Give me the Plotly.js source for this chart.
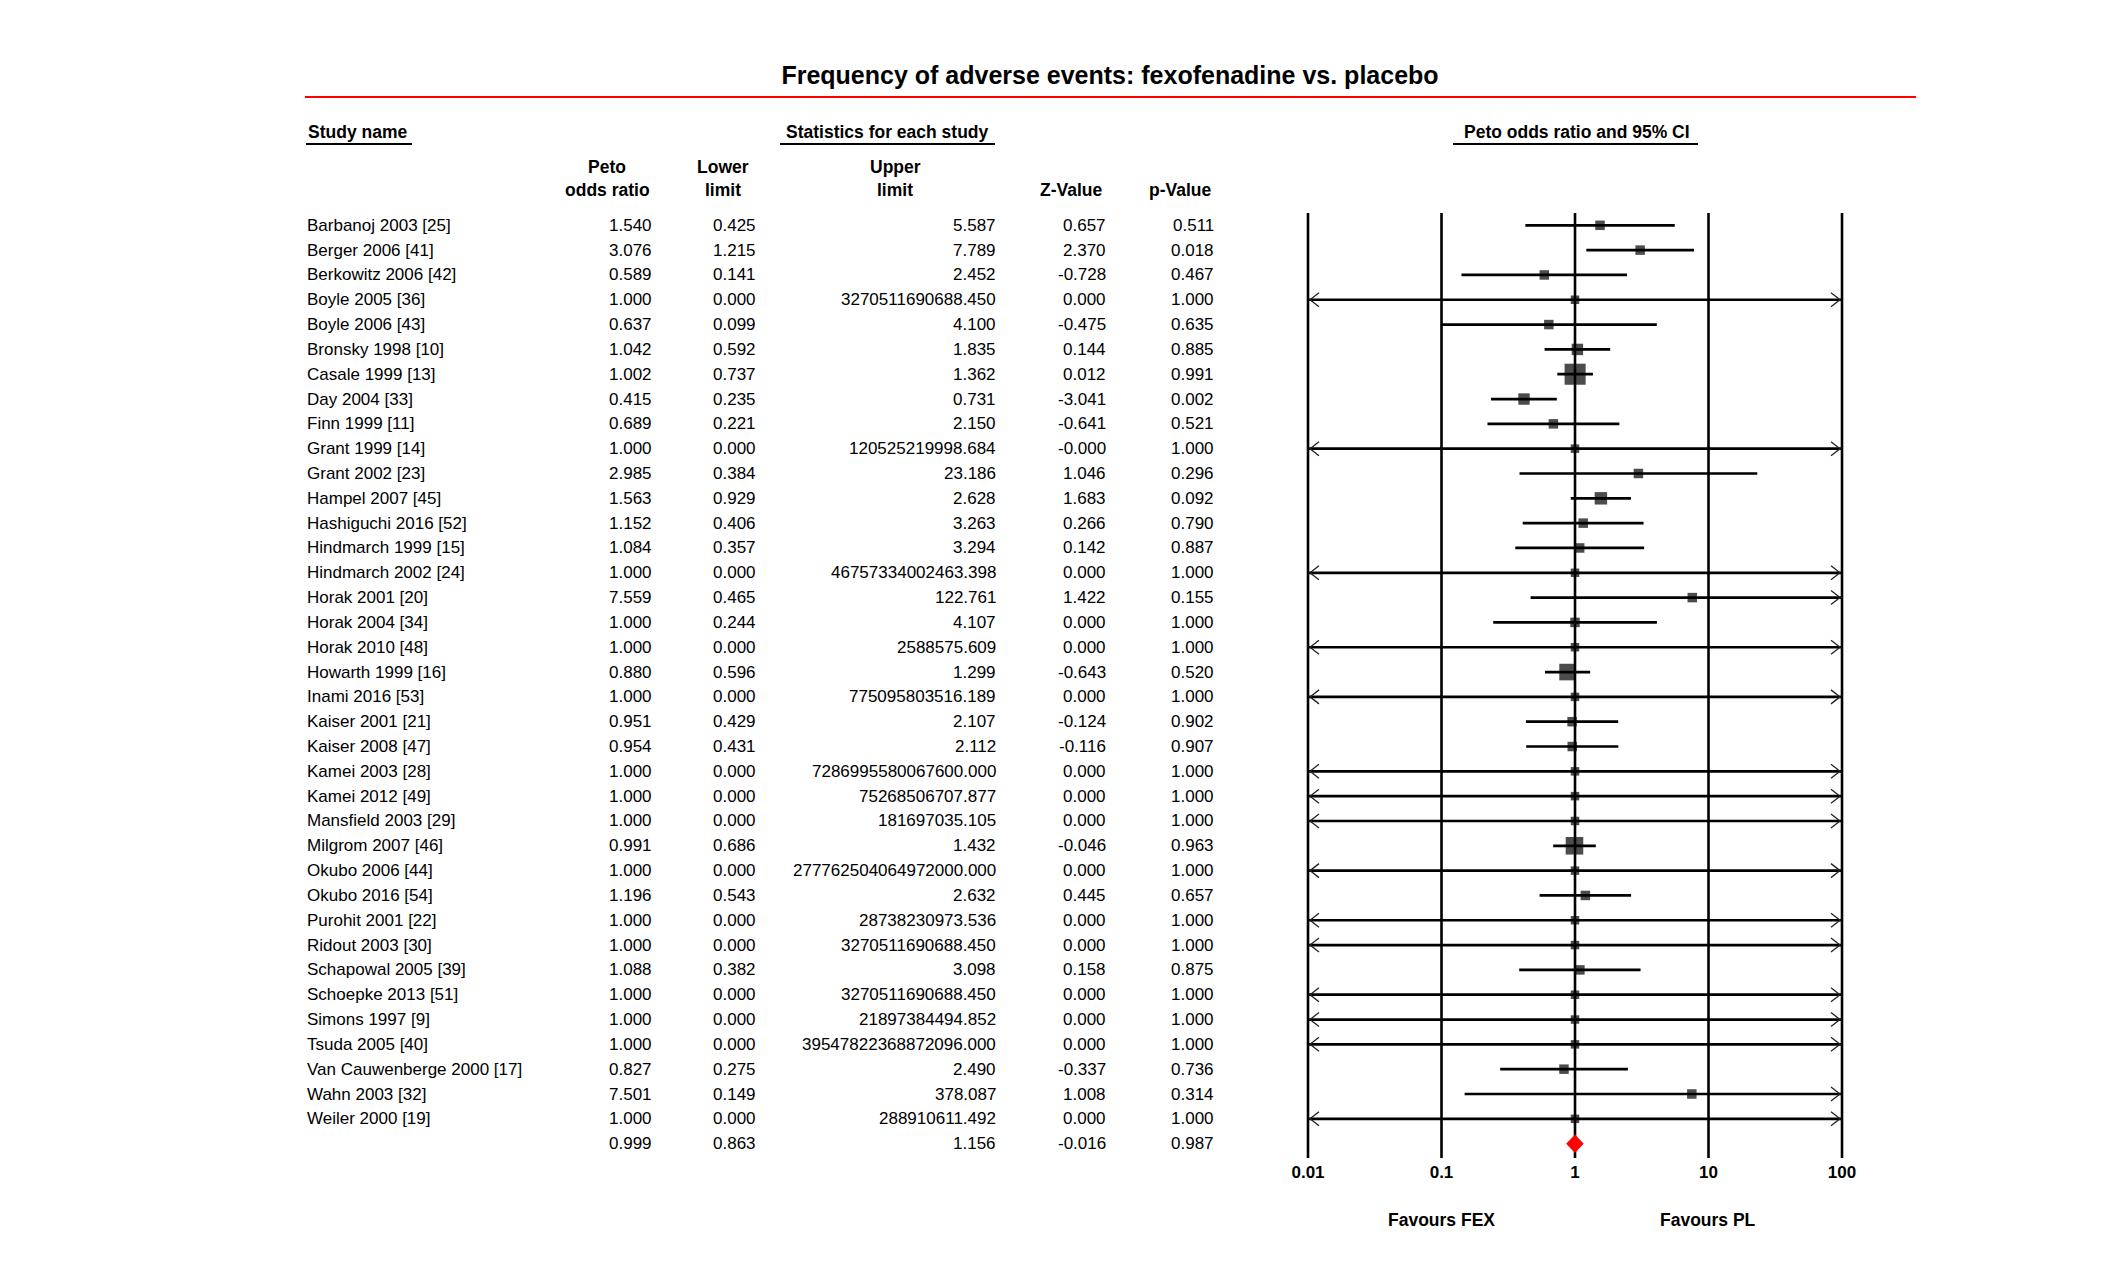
<!DOCTYPE html>
<html>
<head>
<meta charset="utf-8">
<script src="https://cdn.plot.ly/plotly-3.0.1.min.js"></script>
<style>
html, body { margin: 0; padding: 0; background: #ffffff; }
#chart { width: 2128px; height: 1288px; }
</style>
</head>
<body>
<div id="chart"></div>
<script>
// ---------------- DATA ----------------
const studyNames = [
  "Barbanoj 2003 [25]", "Berger 2006 [41]", "Berkowitz 2006 [42]", "Boyle 2005 [36]",
  "Boyle 2006 [43]", "Bronsky 1998 [10]", "Casale 1999 [13]", "Day 2004 [33]",
  "Finn 1999 [11]", "Grant 1999 [14]", "Grant 2002 [23]", "Hampel 2007 [45]",
  "Hashiguchi 2016 [52]", "Hindmarch 1999 [15]", "Hindmarch 2002 [24]", "Horak 2001 [20]",
  "Horak 2004 [34]", "Horak 2010 [48]", "Howarth 1999 [16]", "Inami 2016 [53]",
  "Kaiser 2001 [21]", "Kaiser 2008 [47]", "Kamei 2003 [28]", "Kamei 2012 [49]",
  "Mansfield 2003 [29]", "Milgrom 2007 [46]", "Okubo 2006 [44]", "Okubo 2016 [54]",
  "Purohit 2001 [22]", "Ridout 2003 [30]", "Schapowal 2005 [39]", "Schoepke 2013 [51]",
  "Simons 1997 [9]", "Tsuda 2005 [40]", "Van Cauwenberge 2000 [17]", "Wahn 2003 [32]",
  "Weiler 2000 [19]"
];
const petoOddsRatio = [
  "1.540", "3.076", "0.589", "1.000", "0.637", "1.042", "1.002", "0.415",
  "0.689", "1.000", "2.985", "1.563", "1.152", "1.084", "1.000", "7.559",
  "1.000", "1.000", "0.880", "1.000", "0.951", "0.954", "1.000", "1.000",
  "1.000", "0.991", "1.000", "1.196", "1.000", "1.000", "1.088", "1.000",
  "1.000", "1.000", "0.827", "7.501", "1.000"
];
const lowerLimit = [
  "0.425", "1.215", "0.141", "0.000", "0.099", "0.592", "0.737", "0.235",
  "0.221", "0.000", "0.384", "0.929", "0.406", "0.357", "0.000", "0.465",
  "0.244", "0.000", "0.596", "0.000", "0.429", "0.431", "0.000", "0.000",
  "0.000", "0.686", "0.000", "0.543", "0.000", "0.000", "0.382", "0.000",
  "0.000", "0.000", "0.275", "0.149", "0.000"
];
const upperLimit = [
  "5.587", "7.789", "2.452", "3270511690688.450", "4.100", "1.835", "1.362", "0.731",
  "2.150", "120525219998.684", "23.186", "2.628", "3.263", "3.294", "46757334002463.398", "122.761",
  "4.107", "2588575.609", "1.299", "775095803516.189", "2.107", "2.112", "7286995580067600.000", "75268506707.877",
  "181697035.105", "1.432", "277762504064972000.000", "2.632", "28738230973.536", "3270511690688.450", "3.098", "3270511690688.450",
  "21897384494.852", "39547822368872096.000", "2.490", "378.087", "288910611.492"
];
const zValue = [
  "0.657", "2.370", "-0.728", "0.000", "-0.475", "0.144", "0.012", "-3.041",
  "-0.641", "-0.000", "1.046", "1.683", "0.266", "0.142", "0.000", "1.422",
  "0.000", "0.000", "-0.643", "0.000", "-0.124", "-0.116", "0.000", "0.000",
  "0.000", "-0.046", "0.000", "0.445", "0.000", "0.000", "0.158", "0.000",
  "0.000", "0.000", "-0.337", "1.008", "0.000"
];
const pValue = [
  "0.511", "0.018", "0.467", "1.000", "0.635", "0.885", "0.991", "0.002",
  "0.521", "1.000", "0.296", "0.092", "0.790", "0.887", "1.000", "0.155",
  "1.000", "1.000", "0.520", "1.000", "0.902", "0.907", "1.000", "1.000",
  "1.000", "0.963", "1.000", "0.657", "1.000", "1.000", "0.875", "1.000",
  "1.000", "1.000", "0.736", "0.314", "1.000"
];
// Pooled (summary) row: odds ratio, lower, upper, Z, p
const summaryRow = ["0.999", "0.863", "1.156", "-0.016", "0.987"];

const tickValues = [0.01, 0.1, 1, 10, 100];
const tickLabels = ["0.01", "0.1", "1", "10", "100"];

// ---------------- LAYOUT CONSTANTS ----------------
const W = 2128, H = 1288;
const FONT = "Liberation Sans, Arial, Helvetica, sans-serif";
const ROW0 = 225.3, ROWH = 24.82;          // pixel centre of first row, row pitch
const PLOT_BOTTOM = 1160;                   // pixel bottom of forest area
const X_MIN = tickValues[0], X_MAX = tickValues[tickValues.length - 1];
const DECADE_PX = 133.5;
const PAD_DEC = 0.03;

const pxX = px => px / W;
const pxY = py => 1 - py / H;
const rowFromPx = py => (py - ROW0) / ROWH;

const n = studyNames.length;
const summaryIndex = n;

// ---------------- TRACES ----------------
const traces = [];

// vertical reference lines at each decade
const vx = [], vy = [];
const lineTop = rowFromPx(213), lineBottom = rowFromPx(1158);
tickValues.forEach(v => { vx.push(v, v, null); vy.push(lineTop, lineBottom, null); });
traces.push({ type: "scatter", mode: "lines", x: vx, y: vy,
  line: { color: "#000000", width: 2.6 }, hoverinfo: "skip", cliponaxis: false });

// confidence interval lines (clipped to axis range) and arrow heads
const cx = [], cy = [], ax = [], ay = [];
const tipOff = Math.pow(10, 2 / DECADE_PX);
const armLen = Math.pow(10, 9 / DECADE_PX);
const armH = 7 / ROWH;
for (let i = 0; i < n; i++) {
  const lo = parseFloat(lowerLimit[i]);
  const hi = parseFloat(upperLimit[i]);
  const l = Math.max(lo, X_MIN), h = Math.min(hi, X_MAX);
  cx.push(l, h, null); cy.push(i, i, null);
  if (lo < X_MIN) {
    const t = X_MIN * tipOff;
    ax.push(t * armLen, t, t * armLen, null);
    ay.push(i - armH, i, i + armH, null);
  }
  if (hi > X_MAX) {
    const t = X_MAX / tipOff;
    ax.push(t / armLen, t, t / armLen, null);
    ay.push(i - armH, i, i + armH, null);
  }
}
traces.push({ type: "scatter", mode: "lines", x: cx, y: cy,
  line: { color: "#000000", width: 2.7 }, hoverinfo: "skip" });
traces.push({ type: "scatter", mode: "lines", x: ax, y: ay,
  line: { color: "#222222", width: 1.3 }, hoverinfo: "skip" });

// point estimates: square size grows with inverse-variance weight
const sizes = [];
for (let i = 0; i < n; i++) {
  const lo = parseFloat(lowerLimit[i]), hi = parseFloat(upperLimit[i]);
  let w = 0;
  if (lo > 0) {
    const se = (Math.log(hi) - Math.log(lo)) / 3.92;
    w = 1 / (se * se);
  }
  sizes.push(w > 0 ? Math.max(9.5, 3.3 * Math.sqrt(w)) : 8.5);
}
traces.push({ type: "scatter", mode: "markers",
  x: petoOddsRatio.map(parseFloat), y: studyNames.map((_, i) => i),
  marker: { symbol: "square", color: "#000000", size: sizes, line: { width: 0 } },
  hoverinfo: "skip" });

// summary diamond
const sOR = parseFloat(summaryRow[0]), sLo = parseFloat(summaryRow[1]), sHi = parseFloat(summaryRow[2]);
const dh = 9 / ROWH;
traces.push({ type: "scatter", mode: "lines", fill: "toself",
  x: [sLo, sOR, sHi, sOR, sLo],
  y: [summaryIndex, summaryIndex - dh, summaryIndex, summaryIndex + dh, summaryIndex],
  fillcolor: "#ff0000", line: { color: "#ff0000", width: 0.5 }, hoverinfo: "skip" });

// ---------------- ANNOTATIONS (table text) ----------------
const ann = [];
const dataFont = { family: FONT, size: 17, color: "#000000" };
const boldFont = { family: FONT, size: 17.5, color: "#000000", weight: "bold" };
const colRight = [653, 757, 997, 1107, 1215];
const NAME_LEFT = 306;

function rowText(text, px, row, anchor) {
  ann.push({ text: text, xref: "paper", yref: "y", x: pxX(px), y: row,
    xanchor: anchor, yanchor: "middle", showarrow: false, font: dataFont, borderpad: 0 });
}
for (let i = 0; i < n; i++) {
  rowText(studyNames[i], NAME_LEFT, i, "left");
  rowText(petoOddsRatio[i], colRight[0], i, "right");
  rowText(lowerLimit[i], colRight[1], i, "right");
  rowText(upperLimit[i], colRight[2], i, "right");
  rowText(zValue[i], colRight[3], i, "right");
  rowText(pValue[i], colRight[4], i, "right");
}
summaryRow.forEach((v, k) => rowText(v, colRight[k], summaryIndex, "right"));

function header(text, px, py, anchor, font) {
  ann.push({ text: text, xref: "paper", yref: "paper", x: pxX(px), y: pxY(py),
    xanchor: anchor, yanchor: "middle", showarrow: false, font: font || boldFont, borderpad: 0 });
}
header("Study name", 307, 132, "left");
header("Statistics for each study", 887, 132, "center");
header("Peto odds ratio and 95% CI", 1577, 132, "center");
header("Peto", 607, 167, "center");
header("odds ratio", 607, 190, "center");
header("Lower", 723, 167, "center");
header("limit", 723, 190, "center");
header("Upper", 895, 167, "center");
header("limit", 895, 190, "center");
header("Z-Value", 1071, 190, "center");
header("p-Value", 1180, 190, "center");
header("Favours FEX", 1441, 1220, "center");
header("Favours PL", 1708, 1220, "center");

// ---------------- SHAPES (decorative rules) ----------------
const shapes = [
  { type: "line", xref: "paper", yref: "paper", x0: pxX(305), x1: pxX(1916), y0: pxY(97), y1: pxY(97),
    line: { color: "#ff0000", width: 2.2 } },
  { type: "line", xref: "paper", yref: "paper", x0: pxX(306), x1: pxX(412), y0: pxY(144), y1: pxY(144),
    line: { color: "#000000", width: 2.2 } },
  { type: "line", xref: "paper", yref: "paper", x0: pxX(780), x1: pxX(995), y0: pxY(144), y1: pxY(144),
    line: { color: "#000000", width: 2.2 } },
  { type: "line", xref: "paper", yref: "paper", x0: pxX(1453), x1: pxX(1698), y0: pxY(144), y1: pxY(144),
    line: { color: "#000000", width: 2.2 } }
];

const layout = {
  width: W, height: H, autosize: false,
  margin: { l: 0, r: 0, t: 0, b: 0, pad: 0 },
  paper_bgcolor: "#ffffff", plot_bgcolor: "rgba(0,0,0,0)",
  showlegend: false, hovermode: false,
  title: { text: "Frequency of adverse events: fexofenadine vs. placebo",
    font: { family: FONT, size: 25, color: "#000000", weight: "bold" },
    x: pxX(1110), xanchor: "center", y: pxY(75), yanchor: "middle", xref: "paper", yref: "container" },
  xaxis: {
    type: "log",
    range: [Math.log10(X_MIN) - PAD_DEC, Math.log10(X_MAX) + PAD_DEC],
    domain: [pxX(1308 - PAD_DEC * DECADE_PX), pxX(1842 + PAD_DEC * DECADE_PX)],
    tickvals: tickValues, ticktext: tickLabels,
    tickfont: { family: FONT, size: 17, color: "#000000", weight: "bold" },
    ticks: "", showgrid: false, zeroline: false, showline: false, fixedrange: true
  },
  yaxis: {
    range: [rowFromPx(PLOT_BOTTOM), rowFromPx(0)],
    domain: [pxY(PLOT_BOTTOM), 1],
    visible: false, showgrid: false, zeroline: false, fixedrange: true
  },
  annotations: ann,
  shapes: shapes
};

Plotly.newPlot("chart", traces, layout, { displayModeBar: false, staticPlot: true });
</script>
</body>
</html>
